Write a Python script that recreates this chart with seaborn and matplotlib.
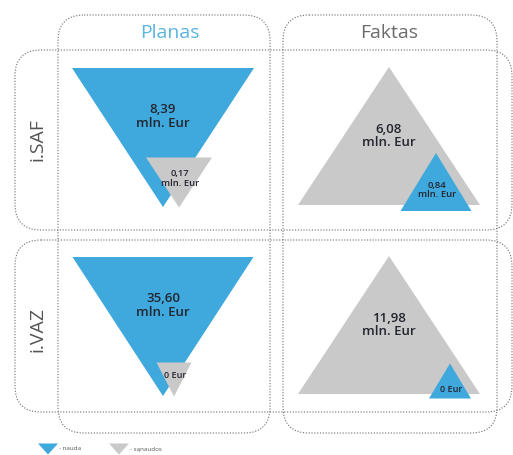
import matplotlib
matplotlib.use("Agg")
import matplotlib.pyplot as plt
import seaborn as sns
from matplotlib.patches import Polygon, FancyBboxPatch

sns.set_theme(style="white")
plt.rcParams['font.family'] = ['Open Sans', 'DejaVu Sans']

# ---- data ----
columns = ["Planas", "Faktas"]
rows = ["i.SAF", "i.VAZ"]
big_labels = [["8,39\nmln. Eur", "6,08\nmln. Eur"],
              ["35,60\nmln. Eur", "11,98\nmln. Eur"]]
small_labels = [["0,17\nmln. Eur", "0,84\nmln. Eur"],
                ["0 Eur", "0 Eur"]]
legend_labels = ["- nauda", "- sąnaudos"]

BLUE = "#3fa8dc"
GRAY = "#c9c9c9"
DARK = "#22252e"
LINE = "#7a7a7a"

# ---- layout (pixel space) ----
col_x = [164, 389]          # column centres
row_y = [137, 326]          # row centres
col_box = [(58, 270), (283, 497)]
row_box = [(50, 230), (240, 412)]

fig = plt.figure(figsize=(5.13, 4.55), dpi=100)
ax = fig.add_axes([0, 0, 1, 1])
ax.set_xlim(0, 513)
ax.set_ylim(455, 0)
ax.axis("off")

def rbox(x0, y0, x1, y1):
    p = FancyBboxPatch((x0, y0), x1 - x0, y1 - y0,
                       boxstyle="round,pad=0,rounding_size=26",
                       fill=False, ec=LINE, lw=0.85, ls=(0, (1, 1.4)),
                       clip_on=False, zorder=1)
    ax.add_patch(p)

for (x0, x1) in col_box:
    rbox(x0, 15, x1, 433)
for (y0, y1) in row_box:
    rbox(15, y0, 512, y1)

# titles
ax.text(col_x[0] + 6, 33, columns[0], ha="center", va="center",
        fontsize=14, color="#5ab3e0")
ax.text(col_x[1], 33, columns[1], ha="center", va="center",
        fontsize=14, color="#6b6b6b")
for i, r in enumerate(rows):
    ax.text(37, row_y[i] + 3, r, ha="center", va="center", rotation=90,
            fontsize=14, color="#555555")

def tri(cx, cy, w, h, up, color, z):
    if up:
        pts = [(cx, cy - h / 2), (cx - w / 2, cy + h / 2), (cx + w / 2, cy + h / 2)]
    else:
        pts = [(cx - w / 2, cy - h / 2), (cx + w / 2, cy - h / 2), (cx, cy + h / 2)]
    ax.add_patch(Polygon(pts, closed=True, fc=color, ec="none", zorder=z))

# size specs per row: (big w, big h, small w, small h, small dx, small dy)
plan_spec = [(182, 139, 66, 50, 16, 45), (181, 139, 35, 34, 11, 53)]
fakt_spec = [(182, 138, 71, 58, 47, 46), (182, 138, 42, 35, 61, 56)]

for i in range(len(rows)):
    # Planas: downward triangles, blue big / gray small
    bw, bh, sw, sh, dx, dy = plan_spec[i]
    cx, cy = col_x[0] - 1, row_y[i] + 0.5
    tri(cx, cy, bw, bh, False, BLUE, 2)
    tri(cx + dx, cy + dy, sw, sh, False, GRAY, 3)
    ax.text(cx, cy - 21, big_labels[i][0], ha="center", va="center",
            fontsize=9.5, fontweight="semibold", color=DARK, linespacing=1.05, zorder=5)
    ax.text(cx + dx + 1, cy + dy - 4, small_labels[i][0], ha="center", va="center",
            fontsize=6.8 if i == 0 else 6.5, fontweight="semibold", color=DARK,
            linespacing=1.05, zorder=5)
    # Faktas: upward triangles, gray big / blue small
    bw, bh, sw, sh, dx, dy = fakt_spec[i]
    cx, cy = col_x[1], row_y[i] - 1
    tri(cx, cy, bw, bh, True, GRAY, 2)
    tri(cx + dx, cy + dy, sw, sh, True, BLUE, 3)
    ax.text(cx, cy + 0, big_labels[i][1], ha="center", va="center",
            fontsize=9.5, fontweight="semibold", color=DARK, linespacing=1.05, zorder=5)
    ax.text(cx + dx + 1, cy + dy + 8, small_labels[i][1], ha="center", va="center",
            fontsize=6.8 if i == 0 else 6.5, fontweight="semibold", color=DARK,
            linespacing=1.05, zorder=5)

# legend
for k, (lab, col) in enumerate(zip(legend_labels, [BLUE, GRAY])):
    lx = 48 + 71 * k
    tri(lx, 449, 20, 11, False, col, 4)
    ax.text(lx + 11, 449, lab, ha="left", va="center", fontsize=4.5,
            color="#555555", clip_on=False)

fig.savefig("out.png", dpi=100)
